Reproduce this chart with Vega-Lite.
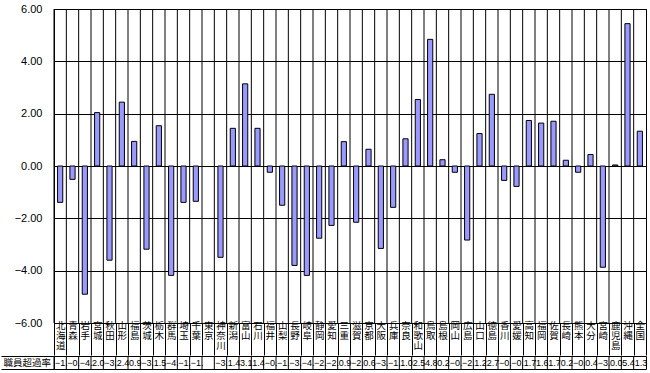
{
  "$schema": "https://vega.github.io/schema/vega-lite/v6.json",
  "padding": {"left": 0, "top": 2, "right": 5, "bottom": 0},
  "spacing": -8,
  "config": {
    "view": {"stroke": "black", "strokeWidth": 1},
    "font": "Liberation Sans",
    "concat": {"spacing": -8}
  },
  "data": {
    "values": [
      {"pref": "北海道", "v": -1.39},
      {"pref": "青森", "v": -0.51},
      {"pref": "岩手", "v": -4.9},
      {"pref": "宮城", "v": 2.04},
      {"pref": "秋田", "v": -3.6},
      {"pref": "山形", "v": 2.44},
      {"pref": "福島", "v": 0.94},
      {"pref": "茨城", "v": -3.18},
      {"pref": "栃木", "v": 1.54},
      {"pref": "群馬", "v": -4.18},
      {"pref": "埼玉", "v": -1.39},
      {"pref": "千葉", "v": -1.35},
      {"pref": "東京", "v": null},
      {"pref": "神奈川", "v": -3.49},
      {"pref": "新潟", "v": 1.44},
      {"pref": "富山", "v": 3.14},
      {"pref": "石川", "v": 1.44},
      {"pref": "福井", "v": -0.24},
      {"pref": "山梨", "v": -1.5},
      {"pref": "長野", "v": -3.8},
      {"pref": "岐阜", "v": -4.18},
      {"pref": "静岡", "v": -2.76},
      {"pref": "愛知", "v": -2.27},
      {"pref": "三重", "v": 0.93},
      {"pref": "滋賀", "v": -2.15},
      {"pref": "京都", "v": 0.64},
      {"pref": "大阪", "v": -3.15},
      {"pref": "兵庫", "v": -1.58},
      {"pref": "奈良", "v": 1.04},
      {"pref": "和歌山", "v": 2.54},
      {"pref": "鳥取", "v": 4.84},
      {"pref": "島根", "v": 0.24},
      {"pref": "岡山", "v": -0.24},
      {"pref": "広島", "v": -2.83},
      {"pref": "山口", "v": 1.24},
      {"pref": "徳島", "v": 2.74},
      {"pref": "香川", "v": -0.55},
      {"pref": "愛媛", "v": -0.78},
      {"pref": "高知", "v": 1.74},
      {"pref": "福岡", "v": 1.64},
      {"pref": "佐賀", "v": 1.71},
      {"pref": "長崎", "v": 0.22},
      {"pref": "熊本", "v": -0.24},
      {"pref": "大分", "v": 0.44},
      {"pref": "宮崎", "v": -3.87},
      {"pref": "鹿児島", "v": 0.04},
      {"pref": "沖縄", "v": 5.44},
      {"pref": "全国", "v": 1.33}
    ]
  },
  "vconcat": [
    {
      "width": 592,
      "height": 314,
      "encoding": {
        "x": {
          "field": "pref", "type": "nominal", "sort": null, "title": null,
          "scale": {"paddingInner": 0, "paddingOuter": 0, "domain": ["北海道","青森","岩手","宮城","秋田","山形","福島","茨城","栃木","群馬","埼玉","千葉","東京","神奈川","新潟","富山","石川","福井","山梨","長野","岐阜","静岡","愛知","三重","滋賀","京都","大阪","兵庫","奈良","和歌山","鳥取","島根","岡山","広島","山口","徳島","香川","愛媛","高知","福岡","佐賀","長崎","熊本","大分","宮崎","鹿児島","沖縄","全国"]},
          "axis": {
            "labelAngle": 0, "labelExpr": "split(datum.label, '')",
            "labelFont": "Noto Sans CJK JP", "labelFontSize": 9.5, "labelLineHeight": 10,
            "labelBaseline": "top", "labelPadding": -35, "tickSize": 32, "tickColor": "black",
            "tickBand": "extent", "grid": false,
            "domainColor": "black", "labelColor": "black", "labelOverlap": false, "labelLimit": 0
          }
        }
      },
      "layer": [
        {
          "mark": {"type": "rule", "color": "black", "strokeWidth": 1},
          "encoding": {"x": {"field": "pref", "type": "nominal", "sort": null, "bandPosition": 0}}
        },
        {
          "mark": {"type": "bar", "color": "#9999ff", "stroke": "black", "strokeWidth": 1, "width": {"band": 0.42}},
          "encoding": {
            "y": {
              "field": "v", "type": "quantitative", "title": null,
              "scale": {"domain": [-6, 6], "nice": false},
              "axis": {
                "values": [-6, -4, -2, 0, 2, 4, 6], "format": ".2f", "ticks": false, "labelPadding": 12,
                "grid": true, "gridColor": "black", "gridOpacity": 1, "domain": false,
                "labelFontSize": 11, "labelColor": "black", "minExtent": 53, "maxExtent": 53
              }
            }
          }
        }
      ]
    },
    {
      "width": 592,
      "height": 13,
      "encoding": {
        "x": {
          "field": "pref", "type": "nominal", "sort": null, "title": null, "bandPosition": 0,
          "scale": {"paddingInner": 0, "paddingOuter": 0, "domain": ["北海道","青森","岩手","宮城","秋田","山形","福島","茨城","栃木","群馬","埼玉","千葉","東京","神奈川","新潟","富山","石川","福井","山梨","長野","岐阜","静岡","愛知","三重","滋賀","京都","大阪","兵庫","奈良","和歌山","鳥取","島根","岡山","広島","山口","徳島","香川","愛媛","高知","福岡","佐賀","長崎","熊本","大分","宮崎","鹿児島","沖縄","全国"]},
          "axis": {"labels": false, "ticks": false, "domain": false, "grid": false}
        }
      },
      "layer": [
        {
          "mark": {"type": "rule", "color": "black", "strokeWidth": 1},
          "encoding": {}
        },
        {
          "transform": [{"filter": "isValid(datum.v)"}],
          "mark": {"type": "text", "align": "left", "dx": 1, "baseline": "middle", "fontSize": 9, "limit": 12.8, "ellipsis": "\u200b", "font": "Liberation Sans", "color": "black"},
          "encoding": {
            "y": {
              "datum": "職員超過率", "type": "nominal", "title": null,
              "scale": {"paddingInner": 0, "paddingOuter": 0},
              "axis": {
                "tickBand": "extent", "tickSize": 53, "tickColor": "black", "labelAlign": "left",
                "labelPadding": -2, "labelFont": "Noto Sans CJK JP", "labelFontSize": 9.5,
                "labelColor": "black", "domainColor": "black", "minExtent": 53, "maxExtent": 53
              }
            },
            "text": {"field": "v", "type": "quantitative", "format": ".1f"}
          }
        }
      ]
    }
  ]
}
